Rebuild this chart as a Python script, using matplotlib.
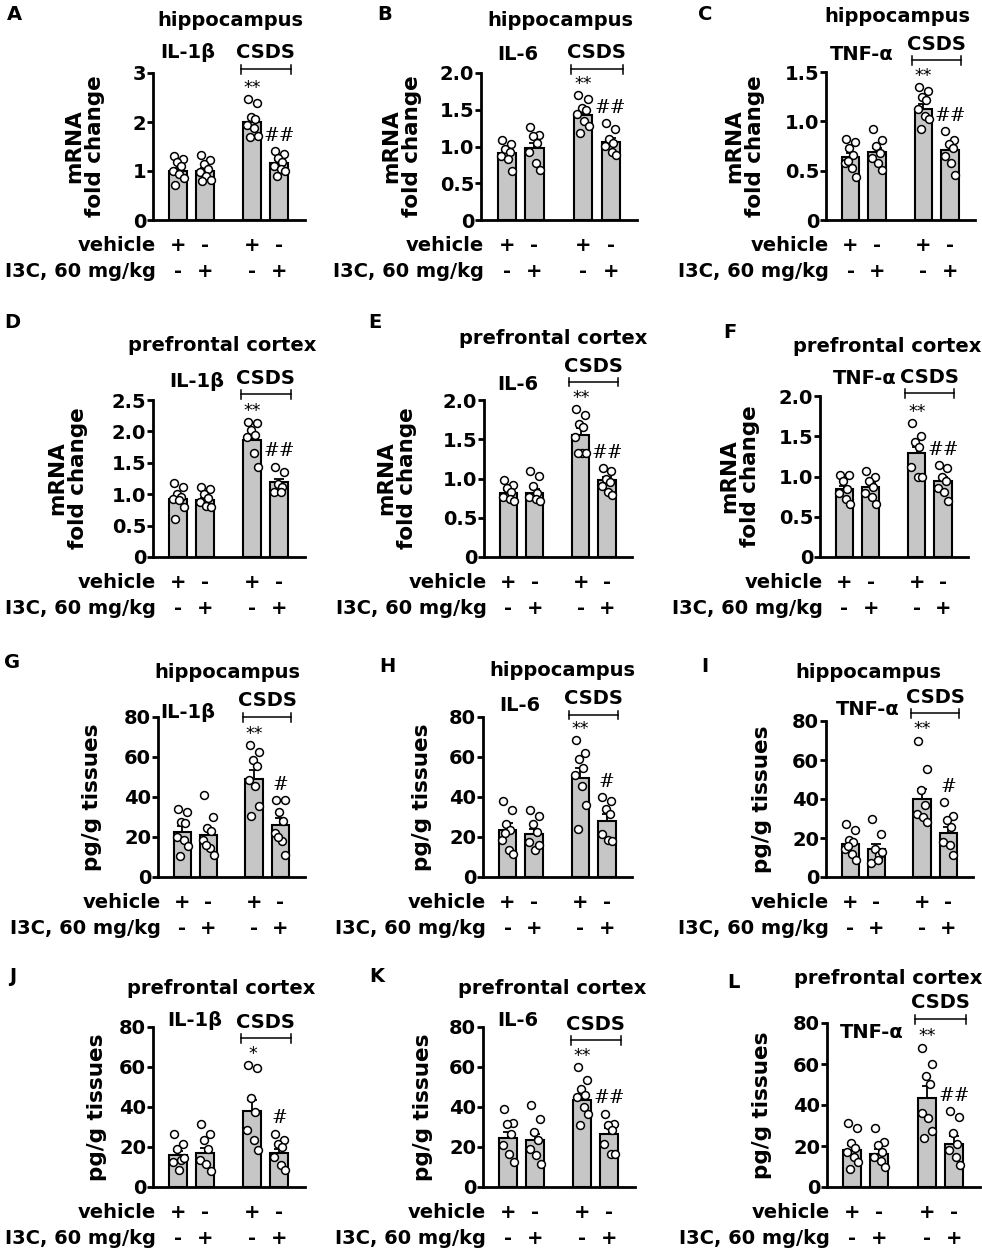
import matplotlib
matplotlib.use("Agg")
import matplotlib.pyplot as plt
from matplotlib.transforms import blended_transform_factory

# ---- data ----
letters = ["A", "B", "C", "D", "E", "F", "G", "H", "I", "J", "K", "L"]
tissues = ["hippocampus"] * 3 + ["prefrontal cortex"] * 3 + ["hippocampus"] * 3 + ["prefrontal cortex"] * 3
cytokines = ["IL-1β", "IL-6", "TNF-α"] * 4
ylabels = ["mRNA\nfold change"] * 6 + ["pg/g tissues"] * 6
yticks = [[0, 1, 2, 3], [0, 0.5, 1.0, 1.5, 2.0], [0, 0.5, 1.0, 1.5],
          [0, 0.5, 1.0, 1.5, 2.0, 2.5], [0, 0.5, 1.0, 1.5, 2.0], [0, 0.5, 1.0, 1.5, 2.0]] + [[0, 20, 40, 60, 80]] * 6
ytick_labels = [["0", "1", "2", "3"], ["0", "0.5", "1.0", "1.5", "2.0"], ["0", "0.5", "1.0", "1.5"],
                ["0", "0.5", "1.0", "1.5", "2.0", "2.5"], ["0", "0.5", "1.0", "1.5", "2.0"],
                ["0", "0.5", "1.0", "1.5", "2.0"]] + [["0", "20", "40", "60", "80"]] * 6
stars = ["**", "**", "**", "**", "**", "**", "**", "**", "**", "*", "**", "**"]
hashes = ["##", "##", "##", "##", "##", "##", "#", "#", "#", "#", "##", "##"]
vehicle_signs = ["+", "-", "+", "-"]
i3c_signs = ["-", "+", "-", "+"]

a_mean = [1.01, 1.00, 2.00, 1.16]
a_sem = [0.06, 0.06, 0.09, 0.06]
a_pts = [[1.30, 1.25, 1.18, 1.10, 1.00, 0.93, 0.85, 0.72],
         [1.32, 1.22, 1.15, 1.05, 0.97, 0.90, 0.82, 0.79],
         [2.47, 2.39, 2.11, 2.06, 1.94, 1.87, 1.72, 1.70],
         [1.40, 1.35, 1.26, 1.18, 1.10, 1.04, 0.99, 0.89]]

b_mean = [0.91, 0.98, 1.43, 1.06]
b_sem = [0.05, 0.07, 0.06, 0.05]
b_pts = [[1.09, 1.03, 0.96, 0.92, 0.87, 0.83, 0.67],
         [1.27, 1.15, 1.14, 1.05, 0.92, 0.78, 0.68],
         [1.70, 1.65, 1.53, 1.49, 1.44, 1.35, 1.28, 1.19],
         [1.32, 1.24, 1.10, 1.05, 1.01, 0.92, 0.88]]

c_mean = [0.64, 0.69, 1.13, 0.71]
c_sem = [0.04, 0.04, 0.05, 0.05]
c_pts = [[0.82, 0.79, 0.73, 0.66, 0.58, 0.53, 0.44, 0.60],
         [0.92, 0.81, 0.75, 0.68, 0.63, 0.58, 0.51],
         [1.35, 1.31, 1.25, 1.22, 1.12, 1.05, 1.02, 0.92],
         [0.90, 0.81, 0.77, 0.73, 0.65, 0.58, 0.46]]

d_mean = [0.92, 0.90, 1.87, 1.20]
d_sem = [0.06, 0.04, 0.08, 0.05]
d_pts = [[1.18, 1.12, 1.01, 0.96, 0.93, 0.90, 0.80, 0.61],
         [1.12, 1.09, 1.01, 0.94, 0.88, 0.82, 0.80],
         [2.15, 2.13, 2.02, 1.94, 1.91, 1.65, 1.44],
         [1.44, 1.36, 1.17, 1.12, 1.04, 1.04]]

e_mean = [0.82, 0.82, 1.56, 0.98]
e_sem = [0.03, 0.04, 0.08, 0.04]
e_pts = [[0.98, 0.92, 0.88, 0.83, 0.77, 0.74, 0.71],
         [1.09, 1.03, 0.90, 0.81, 0.77, 0.74, 0.71],
         [1.88, 1.81, 1.69, 1.66, 1.53, 1.33, 1.33, 1.33],
         [1.13, 1.09, 1.00, 0.96, 0.90, 0.83, 0.79]]

f_mean = [0.84, 0.87, 1.29, 0.94]
f_sem = [0.04, 0.05, 0.08, 0.05]
f_pts = [[1.02, 1.02, 0.94, 0.85, 0.79, 0.72, 0.66],
         [1.07, 1.00, 0.94, 0.87, 0.79, 0.75, 0.66],
         [1.66, 1.50, 1.43, 1.37, 1.12, 1.00, 1.00],
         [1.14, 1.10, 1.00, 0.94, 0.86, 0.81, 0.69]]

g_mean = [22.5, 20.8, 49.0, 25.8]
g_sem = [3.0, 3.5, 4.5, 3.5]
g_pts = [[34.0, 32.7, 27.3, 27.0, 20.0, 18.7, 15.3, 10.7],
         [41.0, 30.0, 24.5, 22.8, 18.7, 14.5, 11.2, 16.0],
         [66.0, 62.5, 58.7, 55.3, 48.7, 45.3, 35.3, 30.3],
         [38.3, 38.3, 32.3, 27.8, 22.0, 17.8, 11.2, 20.0]]

h_mean = [23.3, 21.3, 49.7, 27.8]
h_sem = [3.5, 2.8, 5.0, 3.5]
h_pts = [[37.8, 33.3, 26.7, 23.3, 18.3, 13.3, 11.7, 22.0],
         [33.3, 30.3, 26.3, 22.5, 17.5, 13.3, 16.0],
         [68.3, 62.0, 58.8, 54.5, 51.2, 45.3, 35.8, 24.2],
         [40.0, 37.8, 34.2, 31.7, 21.7, 18.3, 18.0]]

i_mean = [16.8, 14.6, 40.0, 22.8]
i_sem = [2.0, 2.5, 5.0, 3.0]
i_pts = [[27.4, 24.3, 19.2, 18.0, 14.6, 12.0, 8.6, 16.0],
         [30.0, 22.3, 14.6, 11.1, 7.2, 8.6, 13.0],
         [70.0, 55.6, 44.5, 36.8, 32.5, 30.8, 28.3],
         [38.5, 31.2, 29.0, 25.7, 18.0, 16.3, 11.1]]

j_mean = [15.8, 17.0, 38.0, 17.0]
j_sem = [2.3, 2.7, 5.5, 2.0]
j_pts = [[26.7, 21.7, 19.2, 13.3, 12.5, 8.3, 14.5],
         [31.7, 26.7, 23.3, 19.2, 13.3, 11.3, 8.0],
         [60.8, 59.7, 44.7, 37.5, 28.3, 23.3, 18.3],
         [26.7, 23.3, 21.7, 20.0, 15.0, 10.8, 8.7]]

k_mean = [24.7, 23.3, 43.7, 26.3]
k_sem = [3.0, 3.0, 3.0, 3.0]
k_pts = [[38.8, 32.2, 31.3, 26.7, 20.8, 16.3, 12.5],
         [40.8, 34.2, 27.5, 23.3, 19.2, 15.8, 11.7],
         [60.0, 53.7, 49.2, 45.8, 45.0, 40.0, 36.7, 30.8],
         [36.7, 31.7, 30.8, 28.3, 21.7, 16.7, 16.7]]

l_mean = [18.0, 16.3, 43.6, 21.2]
l_sem = [2.5, 2.0, 5.5, 3.5]
l_pts = [[31.0, 28.6, 21.5, 18.8, 17.1, 14.7, 12.2, 9.0],
         [29.0, 22.0, 20.4, 17.1, 14.7, 12.7, 9.8],
         [68.0, 60.0, 54.2, 50.3, 36.2, 33.5, 27.4, 23.7],
         [37.0, 34.3, 26.1, 21.2, 18.0, 14.7, 10.6]]

means = [a_mean, b_mean, c_mean, d_mean, e_mean, f_mean, g_mean, h_mean, i_mean, j_mean, k_mean, l_mean]
sems = [a_sem, b_sem, c_sem, d_sem, e_sem, f_sem, g_sem, h_sem, i_sem, j_sem, k_sem, l_sem]
points = [a_pts, b_pts, c_pts, d_pts, e_pts, f_pts, g_pts, h_pts, i_pts, j_pts, k_pts, l_pts]

# ---- layout (pixels in the 982x1251 picture) ----
W, H = 982, 1251
axes_px = [(153, 73, 305, 220), (481, 73, 637, 220), (826, 72, 975, 220),
           (153, 400, 305, 557), (484, 400, 632, 557), (820, 396, 968, 557),
           (158, 717, 305, 877), (483, 717, 632, 877), (826, 721, 973, 877),
           (153, 1027, 305, 1187), (483, 1027, 635, 1187), (827, 1023, 980, 1187)]
letter_px = [(14, 15), (385, 15), (705, 15), (12, 322), (375, 323), (730, 332),
             (12, 662), (387, 667), (705, 667), (13, 977), (377, 977), (733, 982)]
title_px = [(230, 20), (560, 20), (897, 17), (222, 345), (553, 338), (887, 347),
            (227, 672), (562, 670), (868, 672), (221, 988), (552, 988), (888, 978)]
cyto_px = [(188, 53), (518, 55), (862, 55), (197, 382), (518, 385), (865, 378),
           (188, 712), (520, 705), (868, 710), (195, 1020), (518, 1020), (872, 1033)]
bracket_py = [69, 69, 60, 394, 382, 393, 717, 715, 713, 1038, 1040, 1019]
ylabel_px = [85, 402, 745, 68, 397, 740, 92, 422, 762, 97, 423, 762]

xpos = [0, 1, 2.75, 3.75]
jitter = [-0.17, 0.17, -0.05, 0.10, -0.20, 0.05, 0.20, -0.10]
FS = 14

plt.rcParams['font.family'] = ['DejaVu Sans']
plt.rcParams['font.weight'] = 'bold'

fig = plt.figure(figsize=(W / 100, H / 100), dpi=100)


def fx(x):
    return x / W


def fy(y):
    return 1 - y / H


for i in range(12):
    l, t, r, b = axes_px[i]
    ax = fig.add_axes([fx(l), fy(b), (r - l) / W, (b - t) / H])
    ymax = yticks[i][-1]
    m = means[i]
    s = sems[i]

    ax.bar(xpos, m, width=0.66, color="#c6c6c6", edgecolor="black", linewidth=1.5, zorder=2)
    ax.errorbar(xpos, m, yerr=[[0] * 4, s], fmt="none", ecolor="black",
                elinewidth=1.3, capsize=3.5, capthick=1.3, zorder=3)
    for k in range(4):
        vals = points[i][k]
        xs = [xpos[k] + jitter[n % len(jitter)] for n in range(len(vals))]
        ax.scatter(xs, vals, s=32, facecolor="white", edgecolor="black",
                   linewidth=1.1, zorder=4, clip_on=False)

    # significance marks
    top3 = max(max(points[i][2]), m[2] + s[2])
    top4 = max(max(points[i][3]), m[3] + s[3])
    ax.annotate(stars[i], xy=(xpos[2], top3), xytext=(0, 8), textcoords="offset points",
                ha="center", va="center", fontsize=12.5, fontweight="normal")
    ax.annotate(hashes[i], xy=(xpos[3], top4), xytext=(0, 11), textcoords="offset points",
                ha="center", va="center", fontsize=13.5, fontweight="normal",
                family=["DejaVu Serif"])

    ax.set_xlim(-0.93, 4.70)
    ax.set_ylim(0, ymax)
    ax.set_yticks(yticks[i])
    ax.set_yticklabels(ytick_labels[i], fontsize=FS, fontweight="bold")
    ax.set_xticks([])
    for sp in ["top", "right"]:
        ax.spines[sp].set_visible(False)
    for sp in ["left", "bottom"]:
        ax.spines[sp].set_linewidth(2.0)
    ax.tick_params(axis="y", width=2.0, length=4, pad=1)
    ax.patch.set_alpha(0)

    # treatment table
    for k in range(4):
        ax.annotate(vehicle_signs[k], xy=(xpos[k], 0), xycoords=("data", "axes fraction"),
                    xytext=(0, -18.4), textcoords="offset points",
                    ha="center", va="center", fontsize=FS, fontweight="bold")
        ax.annotate(i3c_signs[k], xy=(xpos[k], 0), xycoords=("data", "axes fraction"),
                    xytext=(0, -37.4), textcoords="offset points",
                    ha="center", va="center", fontsize=FS, fontweight="bold")
    ax.annotate("vehicle", xy=(0, 0), xycoords="axes fraction", xytext=(2, -18.4),
                textcoords="offset points", ha="right", va="center", fontsize=FS, fontweight="bold")
    ax.annotate("I3C, 60 mg/kg", xy=(0, 0), xycoords="axes fraction", xytext=(2, -37.4),
                textcoords="offset points", ha="right", va="center", fontsize=FS, fontweight="bold")

    # CSDS bracket
    tr = blended_transform_factory(ax.transData, fig.transFigure)
    by = fy(bracket_py[i])
    x0, x1 = xpos[2] - 0.43, xpos[3] + 0.43
    tick = 4.5 / H
    ax.plot([x0, x1], [by, by], color="black", lw=1.1, transform=tr, clip_on=False)
    ax.plot([x0, x0], [by - tick, by + tick], color="black", lw=1.1, transform=tr, clip_on=False)
    ax.plot([x1, x1], [by - tick, by + tick], color="black", lw=1.1, transform=tr, clip_on=False)
    ax.text((xpos[2] + xpos[3]) / 2, fy(bracket_py[i] - 16), "CSDS", transform=tr,
            ha="center", va="center", fontsize=FS, fontweight="bold")

    # labels
    fig.text(fx(letter_px[i][0]), fy(letter_px[i][1]), letters[i], ha="center", va="center",
             fontsize=FS, fontweight="bold")
    fig.text(fx(title_px[i][0]), fy(title_px[i][1]), tissues[i], ha="center", va="center",
             fontsize=FS, fontweight="bold")
    fig.text(fx(cyto_px[i][0]), fy(cyto_px[i][1]), cytokines[i], ha="center", va="center",
             fontsize=FS, fontweight="bold")
    fig.text(fx(ylabel_px[i]), fy((t + b) / 2), ylabels[i], ha="center", va="center",
             rotation=90, multialignment="center", fontsize=15.5, fontweight="bold",
             linespacing=1.05)

fig.savefig("out.png", dpi=100)
